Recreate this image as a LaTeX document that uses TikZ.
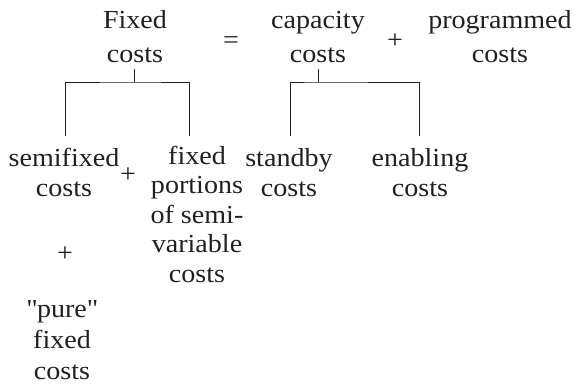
\documentclass[tikz,border=0pt]{standalone}
\usepackage{fontspec}
\setmainfont{Liberation Serif}[FakeStretch=1.08]
\definecolor{ink}{HTML}{231F20}
% a straight double quote, bypassing the tex-text mapping
\newcommand\straightquote{\XeTeXglyph\XeTeXcharglyph"22\relax}
\tikzset{
  % anchor=base sits on the baseline of the last line
  lbl/.style={anchor=base, align=center, inner sep=0pt, text=ink,
              font=\fontsize{26}{29.5}\selectfont},
  toplbl/.style={lbl, font=\fontsize{26}{34}\selectfont},
  op/.style={anchor=base, inner sep=0pt, text=ink, font=\fontsize{26}{29}\selectfont},
  bracket/.style={draw=ink, line width=0.8pt}
}
\begin{document}
\begin{tikzpicture}[x=1pt, y=-1pt]
  \useasboundingbox (0,0) rectangle (579,391);

  % top row: the equation
  \node[toplbl] (fixed)  at (135,62) {Fixed\\costs};
  \node[op]     (eq)     at (231,48) {=};
  \node[toplbl] (cap)    at (318,62) {capacity\\costs};
  \node[op]     (plus1)  at (395,48) {+};
  \node[toplbl] (prog)   at (500,62) {programmed\\costs};

  % second row: the breakdowns
  \node[lbl] (semi)    at (64,196)  {semifixed\\costs};
  \node[op]  (plus2)   at (128,182.5) {+};
  \node[lbl] (portion) at (197,282) {fixed\\portions\\of semi-\\variable\\costs};
  \node[lbl] (standby) at (289,196) {standby\\costs};
  \node[lbl] (enable)  at (420,196) {enabling\\costs};
  \node[op]  (plus3)   at (65,261.5)  {+};
  \node[lbl, font=\fontsize{26}{31}\selectfont] (pure) at (62,379)
    {\straightquote pure\straightquote\\fixed\\costs};

  % bracket joints
  \coordinate (s1) at (134,69);
  \coordinate (k1) at (134,82);
  \coordinate (l1) at (65,136);
  \coordinate (r1) at (189,136);
  \coordinate (s2) at (318,69);
  \coordinate (k2) at (318,82);
  \coordinate (l2) at (290,136);
  \coordinate (r2) at (419,136);

  \draw[bracket] (s1) -- (k1);
  \draw[bracket] (l1) |- (k1) -| (r1);
  \draw[bracket] (s2) -- (k2);
  \draw[bracket] (l2) |- (k2) -| (r2);
\end{tikzpicture}
\end{document}
